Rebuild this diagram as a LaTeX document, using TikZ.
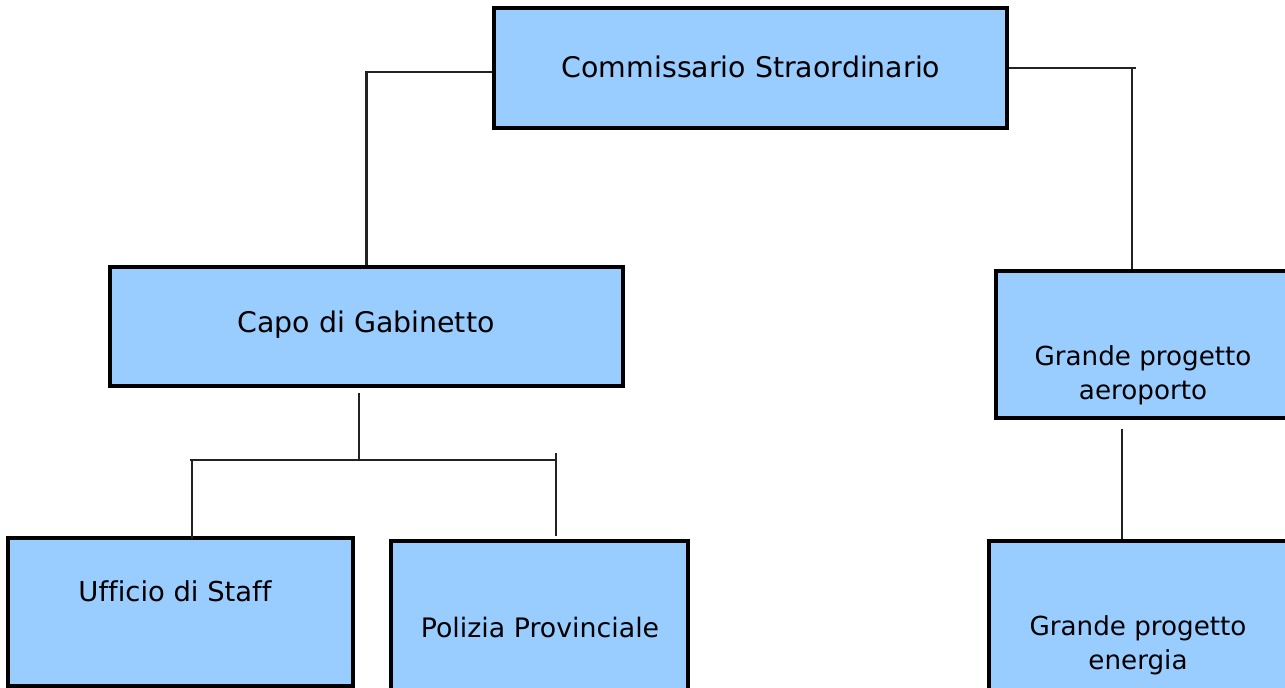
\documentclass[tikz,border=0pt]{standalone}
\usepackage{fontspec}
\setmainfont[Ligatures={NoCommon}]{DejaVu Sans}
\definecolor{boxblue}{HTML}{99CCFF}
\definecolor{linegray}{HTML}{222222}
\tikzset{
  orgbox/.style={draw=black, line width=3.4pt, fill=boxblue, inner sep=0pt, anchor=center},
  conn/.style={draw=linegray, line width=2.3pt},
  lbl/.style={inner sep=0pt, anchor=center, align=center, text=black},
  big/.style={font=\fontsize{28.4}{34}\selectfont},
  mid/.style={font=\fontsize{26.2}{34}\selectfont},
  sml/.style={font=\fontsize{26.8}{34}\selectfont},
}
\begin{document}
\begin{tikzpicture}[x=1pt,y=-1pt]
\useasboundingbox (0,0) rectangle (1285,688);
\clip (0,0) rectangle (1285,688);
% boxes
\node[orgbox, minimum width=513pt, minimum height=120pt] (cs) at (750.5,68) {};
\node[orgbox, minimum width=513pt, minimum height=119pt] (cg) at (366.5,326.5) {};
\node[orgbox, minimum width=294pt, minimum height=147pt] (ga) at (1143,344.5) {};
\node[orgbox, minimum width=345pt, minimum height=148pt] (us) at (180.5,612) {};
\node[orgbox, minimum width=297pt, minimum height=160pt] (pp) at (539.5,621) {};
\node[orgbox, minimum width=298pt, minimum height=160pt] (ge) at (1138,621) {};
% labels
\node[lbl, big] (tcs) at (751,67) {Commissario Straordinario};
\node[lbl, big] (tcg) at (366,325) {Capo di Gabinetto};
\node[lbl, mid] (tga) at (1143,375) {Grande progetto\\aeroporto};
\node[lbl, font=\fontsize{27.4}{34}\selectfont] (tus) at (175,591) {Ufficio di Staff};
\node[lbl, sml] (tpp) at (540,628) {Polizia Provinciale};
\node[lbl, mid] (tge) at (1138,645) {Grande progetto\\energia};
% connectors
\coordinate (rt) at (1132,68);
\coordinate (j) at (359,460);
\coordinate (jl) at (192,460);
\coordinate (jr) at (556,460);
\draw[conn] ([yshift=-4pt]cs.west) -| (cg.north);
\draw[conn] (cs.east) -- ([xshift=4pt]rt);
\draw[conn] (rt) -- (rt |- ga.north);
\draw[conn] ([yshift=-5pt]cg.south -| j) -- (j);
\draw[conn] ([xshift=-2pt]jl) -- (jr);
\draw[conn] (jl) -- ([yshift=-3pt]jl |- us.north);
\draw[conn] ([yshift=7pt]jr) -- ([yshift=3pt]jr |- pp.north);
\draw[conn] ([yshift=-9pt]ga.south -| 1122,0) -- (1122,0 |- ge.north);
\end{tikzpicture}
\end{document}
